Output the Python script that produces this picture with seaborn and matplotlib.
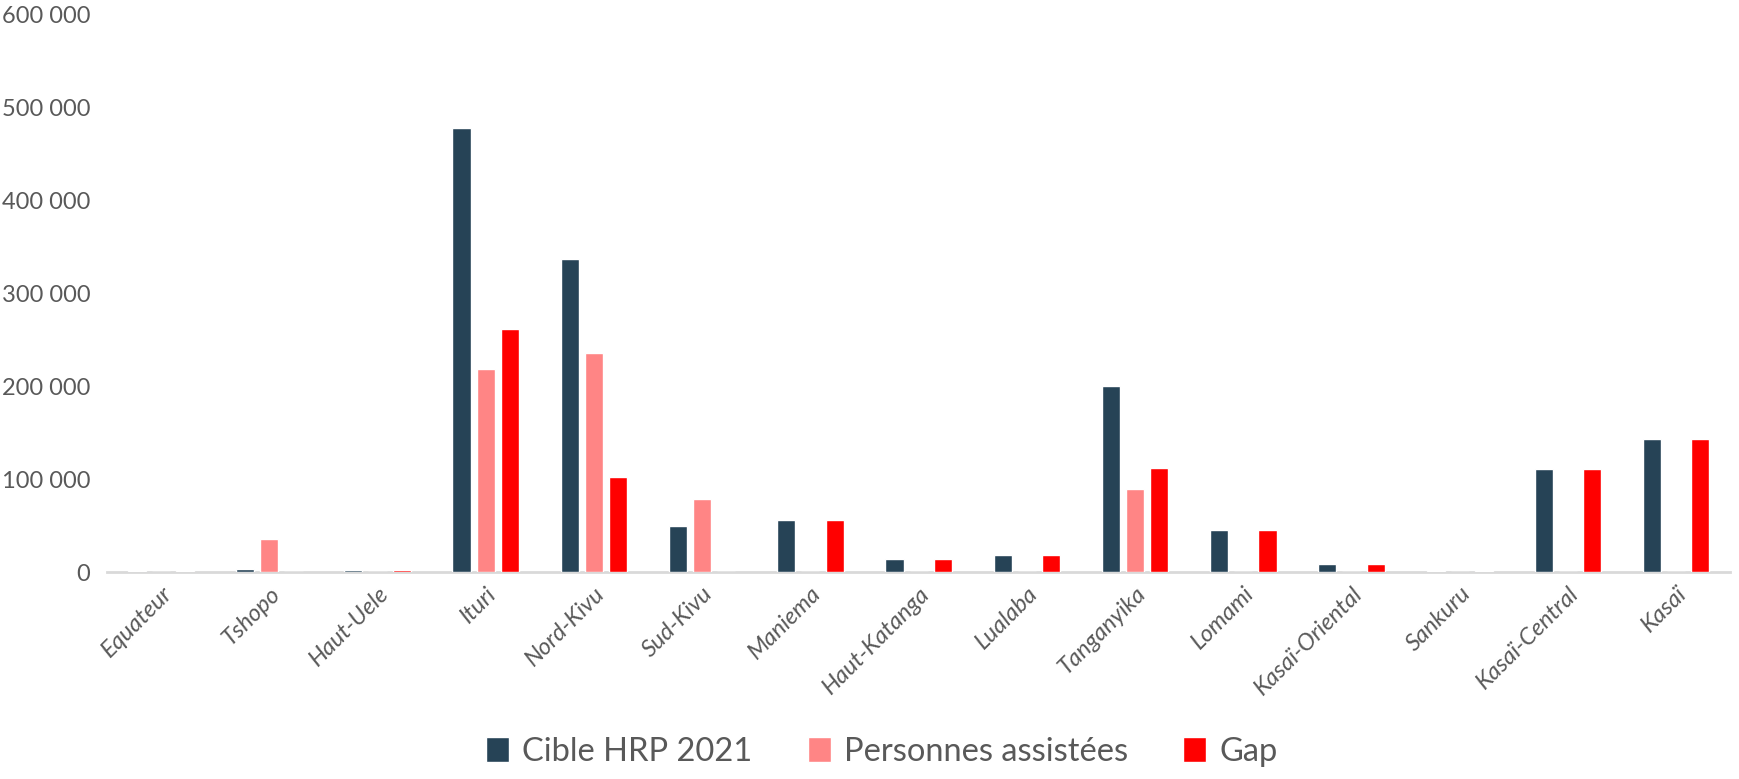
import pandas as pd
import matplotlib
matplotlib.use("Agg")
import matplotlib.pyplot as plt
from matplotlib.ticker import FuncFormatter, MultipleLocator
import seaborn as sns

regions = ["Equateur", "Tshopo", "Haut-Uele", "Ituri", "Nord-Kivu", "Sud-Kivu", "Maniema",
           "Haut-Katanga", "Lualaba", "Tanganyika", "Lomami", "Kasaï-Oriental", "Sankuru",
           "Kasaï-Central", "Kasaï"]
cible = [1500, 3500, 2000, 478000, 337000, 49000, 56000, 14000, 18000, 200000, 45000, 9000, 1500, 111000, 143000]
assistees = [0, 35000, 0, 218000, 236000, 79000, 0, 0, 0, 89000, 0, 0, 0, 0, 0]
gap = [1500, 0, 2000, 262000, 102000, 0, 56000, 14000, 18000, 112000, 45000, 9000, 1500, 111000, 143000]

series = ["Cible HRP 2021", "Personnes assistées", "Gap"]
colors = ["#264356", "#FF8585", "#FF0000"]

df = pd.DataFrame({"Region": regions, series[0]: cible, series[1]: assistees, series[2]: gap})
long = df.melt(id_vars="Region", var_name="Serie", value_name="Valeur")

sns.set_theme(style="white")
plt.rcParams["font.family"] = ["Lato", "DejaVu Sans"]
text_color = "#595959"

fig = plt.figure(figsize=(17.39, 7.79), dpi=100)
ax = fig.add_axes([0.0615, 0.2657, 0.9335, 0.7158])

sns.barplot(data=long, x="Region", y="Valeur", hue="Serie", hue_order=series,
            palette=colors, width=0.67, gap=0.25, ax=ax, saturation=1, legend=True)

ax.set_ylim(0, 600000)
ax.set_xlim(-0.5, len(regions) - 0.5)
ax.yaxis.set_major_locator(MultipleLocator(100000))
ax.yaxis.set_major_formatter(FuncFormatter(lambda v, p: f"{int(v):,}".replace(",", " ")))
ax.set_xlabel("")
ax.set_ylabel("")

for s in ["top", "right", "left"]:
    ax.spines[s].set_visible(False)
ax.spines["bottom"].set_color("#D9D9D9")
ax.spines["bottom"].set_linewidth(2)
ax.spines["bottom"].set_zorder(0.5)
ax.tick_params(axis="y", length=0, pad=12, labelsize=17, labelcolor=text_color)
ax.tick_params(axis="x", length=0, pad=8, labelsize=17, labelcolor=text_color)
plt.setp(ax.get_xticklabels(), rotation=45, ha="right", rotation_mode="anchor", style="italic")

handles, labels = ax.get_legend_handles_labels()
ax.legend(handles, labels, loc="center", bbox_to_anchor=(0.507, 0.035), bbox_transform=fig.transFigure,
          ncol=3, frameon=False, fontsize=23.5, labelcolor=text_color, handlelength=0.7,
          handleheight=0.8, handletextpad=0.4, columnspacing=1.7)

fig.savefig("out.png", dpi=100)
